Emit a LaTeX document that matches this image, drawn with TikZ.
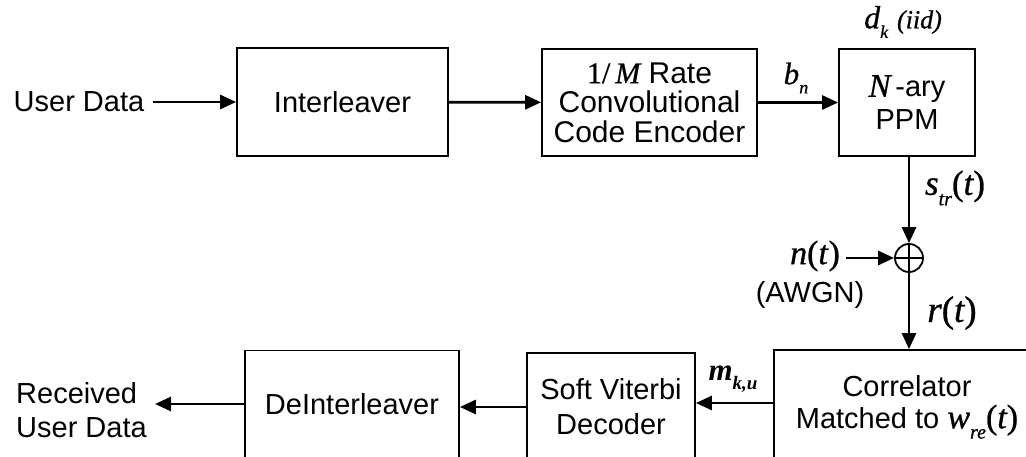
\documentclass[tikz,border=0pt]{standalone}
\usepackage{fontspec}
\setmainfont{Liberation Sans}
\newfontfamily\tms{Liberation Serif}[UprightFeatures={FakeBold=0.8},ItalicFeatures={FakeBold=0.8}]
\usetikzlibrary{arrows.meta}

% italic symbol with a lowered italic subscript: base, subscript, subscript size
\newcommand\vsub[3]{{\tms\itshape #1}\raisebox{-0.3em}{\fontsize{#3}{#3}\selectfont\tms\itshape #2}}

\begin{document}
\begin{tikzpicture}[x=1pt,y=-1pt,
  blk/.style={draw,line width=1.8pt,inner sep=0pt,align=center,
              font=\fontsize{29}{32}\selectfont},
  flow/.style={line width=2.8pt,-{Triangle[length=16pt,width=14pt]}},
  txt/.style={inner sep=0pt,align=left,font=\fontsize{29}{34}\selectfont},
  sym/.style={inner sep=0pt,font=\fontsize{34}{34}\selectfont}]

\useasboundingbox (0,0) rectangle (1026,457);
\clip (0,0) rectangle (1026,457);

% transmitter chain
\node[txt,inner xsep=9pt] (ud) at (79,102) {User Data};
\node[blk,minimum width=211pt,minimum height=108pt] (intl) at (342.5,102) {Interleaver};
\node[blk,minimum width=215pt,minimum height=107pt,font=\fontsize{30}{29.5}\selectfont]
  (enc) at (649.5,102.5) {{\tms 1/}\,{\tms\itshape M} Rate\\Convolutional\\Code Encoder};
\node[blk,minimum width=136pt,minimum height=107pt,font=\fontsize{29}{33}\selectfont]
  (ppm) at (907,102.5) {{\fontsize{33}{33}\selectfont\tms\itshape N}\,-ary\\PPM};

\draw[flow] (ud) -- (intl);
\draw[flow] (intl) -- (enc);
\draw[flow] (enc) -- (ppm);

\node[sym,font=\fontsize{31}{31}\selectfont] (bn) at (796,78) {\vsub{b}{n}{18}};
\node[sym,font=\fontsize{32}{32}\selectfont] (dk) at (903,22)
  {\vsub{d}{k}{18}\ {\fontsize{26}{26}\selectfont\tms\itshape (iid)}};

% channel
\node[circle,draw,line width=1.8pt,minimum size=28pt,inner sep=0pt] (sum) at (909,258) {};
\draw[line width=1.8pt] (sum.north) -- (sum.south) (sum.west) -- (sum.east);

\draw[flow] (ppm.south -| sum) -- (sum.north);
\node[sym,font=\fontsize{35}{35}\selectfont] (str) at (955,188)
  {\vsub{s}{tr}{20}{\tms(\itshape t\upshape)}};

\node[inner xsep=6pt,inner ysep=0pt,font=\fontsize{34}{34}\selectfont\tms] (nt) at (815,256)
  {\textit{n}(\textit{t})};
\node[txt] (awgn) at (810,295) {(AWGN)};
\draw[flow] (nt.east |- sum) -- (sum);

% receiver chain
\node[blk,minimum width=266pt,minimum height=114pt] (corr) at (907,407)
  {Correlator\\Matched to {\fontsize{34}{34}\selectfont\vsub{w}{re}{20}{\tms(\itshape t\upshape)}}};
\node[sym,font=\fontsize{37}{37}\selectfont] (rt) at (952,313) {{\tms\itshape r}{\tms(\itshape t\upshape)}};
\draw[flow] (sum.south) -- (sum.south |- corr.north);

\node[blk,minimum width=168pt,minimum height=108pt,font=\fontsize{29}{35}\selectfont]
  (sv) at (611,407) {Soft Viterbi\\Decoder};
\node[blk,minimum width=214pt,minimum height=107pt] (dint) at (352,404) {DeInterleaver};

\draw[flow] ([yshift=4pt]corr.west) -- ([yshift=4pt]sv.east);
\node[sym,font=\fontsize{31}{31}\selectfont] (mku) at (733,379) {\textbf{\vsub{m}{k,u}{19}}};

\draw[flow] (sv.west) -- (sv.west -| dint.east);
\coordinate (rxtip) at (155,404);
\draw[flow] (dint.west |- rxtip) -- (rxtip);
\node[txt,anchor=west] (rx) at (16,410) {Received\\User Data};

\end{tikzpicture}
\end{document}
